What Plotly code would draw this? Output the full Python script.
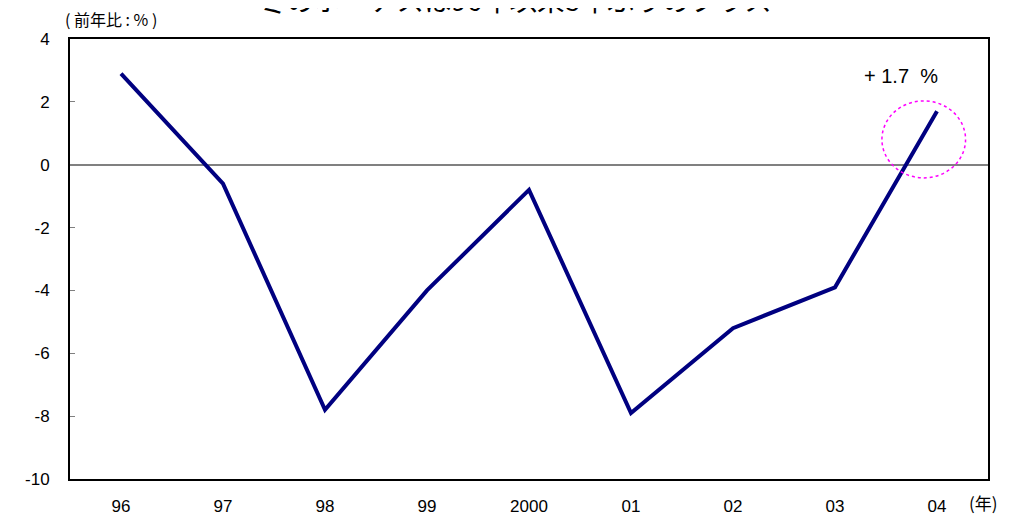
import plotly.graph_objects as go

years = ["96", "97", "98", "99", "2000", "01", "02", "03", "04"]
change = [2.9, -0.6, -7.8, -4.0, -0.8, -7.9, -5.2, -3.9, 1.7]
y_ticks = [4, 2, 0, -2, -4, -6, -8, -10]

title_text = "冬のボーナスは96年以来8年ぶりのプラス"
y_unit = "( 前年比 : % )"
x_unit = "(年)"
last_label = "+ 1.7  %"

fig = go.Figure()
fig.add_trace(go.Scatter(
    x=years, y=change, mode="lines",
    line=dict(color="#000080", width=4),
    hoverinfo="skip", showlegend=False,
))

fig.update_layout(
    width=1015, height=509,
    margin=dict(l=62, r=35, t=31, b=38, autoexpand=False),
    paper_bgcolor="white", plot_bgcolor="white",
    font=dict(family="Liberation Sans, Arial, sans-serif", size=17, color="black"),
    xaxis=dict(
        type="category", range=[-0.5, 8.5], automargin=False,
        showgrid=False, zeroline=False,
        showline=True, linecolor="black", linewidth=2, mirror=True,
        ticks="", ticklabelstandoff=11,
        tickfont=dict(size=17),
    ),
    yaxis=dict(
        range=[-10, 4], tickvals=y_ticks, ticktext=[str(v) for v in y_ticks],
        automargin=False,
        showgrid=False, zeroline=True, zerolinecolor="#808080", zerolinewidth=1.5,
        showline=True, linecolor="black", linewidth=2, mirror=True,
        ticks="inside", ticklen=5, tickcolor="#808080", tickwidth=1,
        ticklabelstandoff=15,
        tickfont=dict(size=17),
    ),
)

# dotted circle highlighting the last point
fig.add_shape(type="circle", xref="x", yref="y",
              x0=7.46, x1=8.28, y0=-0.42, y1=2.03,
              line=dict(color="#ff00ff", width=1.5, dash="dot"))

fig.add_annotation(x=7.65, y=2.82, xref="x", yref="y", text=last_label,
                   showarrow=False, font=dict(size=20, color="black"))

fig.add_annotation(x=0.485, y=1.0918, xref="paper", yref="paper", text=title_text,
                   showarrow=False, yanchor="middle",
                   font=dict(family="Noto Sans CJK JP", size=27.5, color="black"))

fig.add_annotation(x=-0.0075, y=1.045, xref="paper", yref="paper", text=y_unit,
                   showarrow=False, xanchor="left", yanchor="middle",
                   font=dict(family="Noto Sans CJK JP", size=16, color="black"))

fig.add_annotation(x=0.9946, y=-0.0545, xref="paper", yref="paper", text=x_unit,
                   showarrow=False, xanchor="center", yanchor="middle",
                   font=dict(family="Noto Sans CJK JP", size=17, color="black"))

fig.write_html("out.html")
